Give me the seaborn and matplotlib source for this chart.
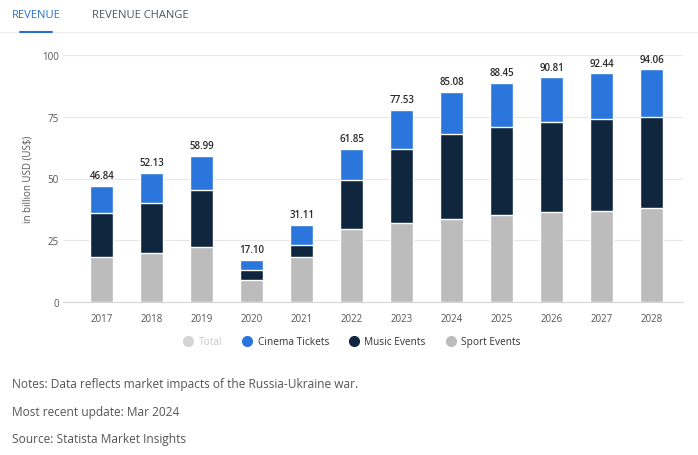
import numpy as np
import pandas as pd
import seaborn as sns
import matplotlib.pyplot as plt
from matplotlib.lines import Line2D

# values (billion USD)
years = ['2017', '2018', '2019', '2020', '2021', '2022',
         '2023', '2024', '2025', '2026', '2027', '2028']
totals = [46.84, 52.13, 58.99, 17.10, 31.11, 61.85,
          77.53, 85.08, 88.45, 90.81, 92.44, 94.06]
sport_events = [18.4, 19.9, 22.4, 9.0, 18.1, 29.5,
                31.9, 33.8, 35.4, 36.3, 37.0, 38.0]
music_events = [17.8, 20.3, 23.0, 3.9, 4.9, 19.7,
                30.2, 34.0, 35.4, 36.6, 37.1, 37.0]
cinema_tickets = [10.64, 11.93, 13.59, 4.20, 8.11, 12.65,
                  15.43, 17.28, 17.65, 17.91, 18.34, 19.06]
y_ticks = [0, 25, 50, 75, 100]

BLUE = '#2a76dc'
NAVY = '#10263f'
GREY = '#bcbcbc'

df = pd.DataFrame({'year': years, 'sport': sport_events,
                   'music': music_events, 'cinema': cinema_tickets})
df['music_top'] = df['sport'] + df['music']
df['cinema_top'] = df['music_top'] + df['cinema']

sns.set_style('white')
plt.rcParams['font.family'] = ['Open Sans', 'DejaVu Sans']

fig = plt.figure(figsize=(6.98, 4.56), dpi=100)
ax = fig.add_axes([63 / 698, 1 - 303.3 / 456, (682.7 - 63) / 698, (303.3 - 55.7) / 456])

# stacked bars drawn as cumulative layers
for col, color in [('cinema_top', BLUE), ('music_top', NAVY), ('sport', GREY)]:
    sns.barplot(data=df, x='year', y=col, color=color, width=0.46,
                edgecolor='white', linewidth=1.0, saturation=1, ax=ax, zorder=3)

# total labels above the bars
top = ax.containers[0]
ax.bar_label(top, labels=[f'{v:.2f}' for v in totals], padding=3.5,
             fontsize=7, color='#2b2b2b', fontweight='semibold')

ax.set_xlim(-0.78, 11.62)
ax.set_ylim(0, 100)
ax.set_yticks(y_ticks)
ax.grid(axis='y', color='#e8e8e8', linewidth=0.8, zorder=0)
for s in ['top', 'right', 'left']:
    ax.spines[s].set_visible(False)
ax.spines['bottom'].set_color('#d6d6d6')
ax.tick_params(axis='x', length=5, color='#d6d6d6', labelsize=7, labelcolor='#555555', pad=3)
ax.tick_params(axis='y', length=0, labelsize=7, labelcolor='#555555', pad=3)
ax.set_xlabel('')
ax.set_ylabel('in billion USD (US$)', fontsize=7, color='#555555', labelpad=6)

# tabs at the top
fig.text(12 / 698, 1 - 16 / 456, 'REVENUE', fontsize=8, color='#2a6fd0', va='center')
fig.text(92 / 698, 1 - 16 / 456, 'REVENUE CHANGE', fontsize=8, color='#4a5566', va='center')
fig.add_artist(Line2D([0, 1], [1 - 32.5 / 456] * 2, color='#eeeeee', linewidth=0.8))
fig.add_artist(Line2D([20 / 698, 52 / 698], [1 - 32.5 / 456] * 2, color='#2a6fd0', linewidth=1.5))

# legend
handles = [Line2D([], [], marker='o', linestyle='', markersize=7, color=c)
           for c in ['#d4d4d4', BLUE, NAVY, GREY]]
leg = fig.legend(handles, ['Total', 'Cinema Tickets', 'Music Events', 'Sport Events'],
                 loc='center', bbox_to_anchor=(352 / 698, 1 - 343 / 456), ncol=4,
                 frameon=False, fontsize=7.3, handletextpad=0.5, columnspacing=2.0,
                 handlelength=1.0)
for t, c in zip(leg.get_texts(), ['#c8c8c8', '#333333', '#333333', '#333333']):
    t.set_color(c)

# notes
notes = ['Notes: Data reflects market impacts of the Russia-Ukraine war.',
         'Most recent update: Mar 2024',
         'Source: Statista Market Insights']
for i, n in enumerate(notes):
    fig.text(12 / 698, 1 - (385 + 27.5 * i) / 456, n, fontsize=8.6,
             color='#555555', va='center')

fig.savefig('out.png', dpi=100, facecolor='white')
